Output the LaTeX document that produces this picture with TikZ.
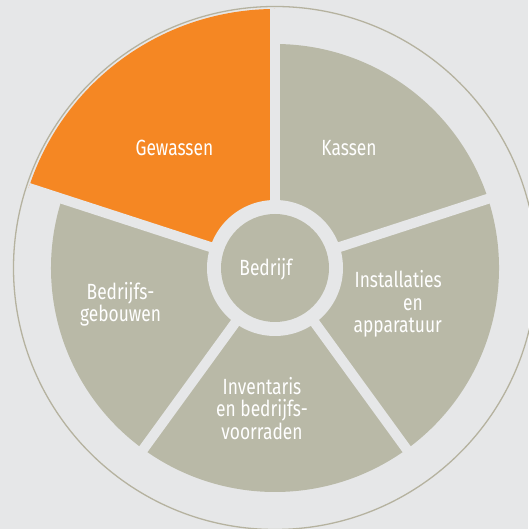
\documentclass[tikz,border=0pt]{standalone}
\usepackage{fontspec}
\setmainfont{Fira Sans}[FakeStretch=0.79]
\definecolor{bgGray}{HTML}{E6E7E8}
\definecolor{segGray}{HTML}{B9B9A7}
\definecolor{segOrange}{HTML}{F58723}
\definecolor{rimGray}{HTML}{B5B29F}

\begin{document}
\begin{tikzpicture}[x=1pt,y=1pt,
    seg/.style={fill=segGray},
    gap/.style={draw=bgGray,line width=10pt},
    lbl/.style={text=white,font=\fontsize{22}{22.3}\selectfont,inner sep=0pt,align=center}]
    \fill[bgGray] (0,0) rectangle (528,529);
    \useasboundingbox (0,0) rectangle (528,529);
    \coordinate (c) at (275,261);
    \draw[rimGray,line width=1.3pt] (c) circle (261.5);
    \fill[segOrange] (c) -- ++(90:259) arc[start angle=90,end angle=162,radius=259] -- cycle;
    \foreach \a in {-198,-126,-54,18}
      \fill[seg] (c) -- ++(\a:224) arc[start angle=\a,end angle=\a+72,radius=224] -- cycle;
    \foreach \a in {18,90,162,234,306}
      \draw[gap] (c) -- ++(\a:259);
    \fill[bgGray] (c) circle (68);
    \fill[segGray] (c) circle (54);
    \node[lbl,anchor=base] (bedrijf) at (265.8,253) {Bedrijf};
    \node[lbl,anchor=base] (gewassen) at (174.4,373.4) {Gewassen};
    \node[lbl,anchor=base] (kassen) at (349,373.4) {Kassen};
    \node[lbl,anchor=east,align=right] (installaties) at (442,225) {Installaties\\en\rule{19pt}{0pt}\\apparatuur};
    \node[lbl] (gebouwen) at (120.5,224.5) {Bedrijfs-\\gebouwen};
    \node[lbl] (inventaris) at (262,120.6) {Inventaris\\en bedrijfs-\\voorraden};
\end{tikzpicture}
\end{document}
